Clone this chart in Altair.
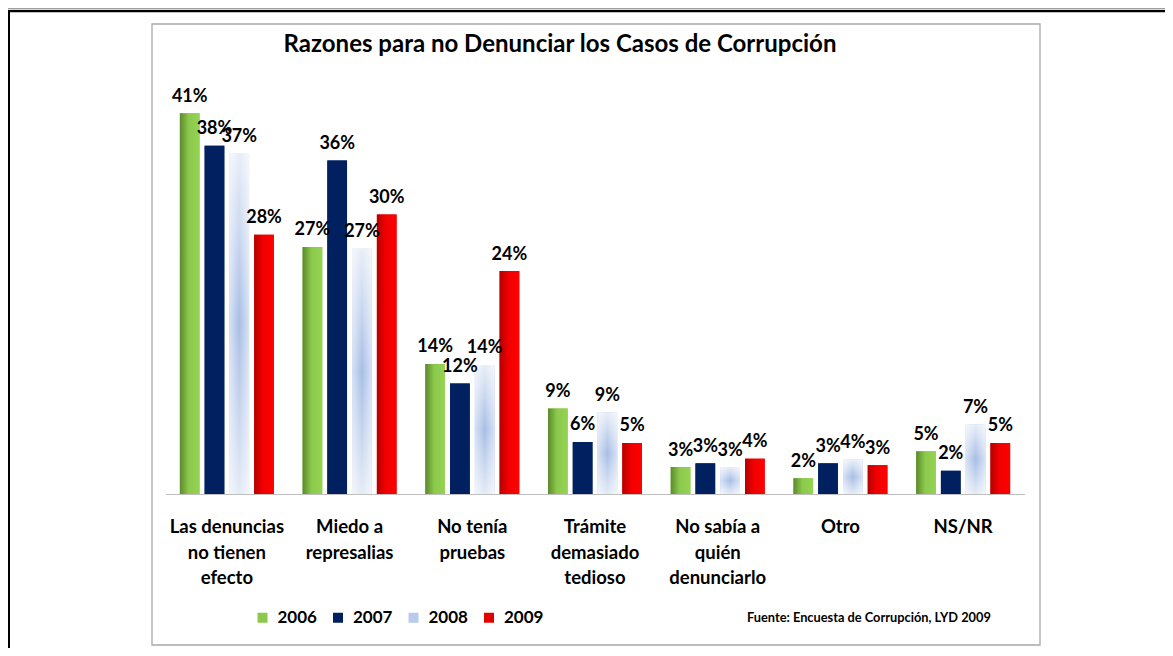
import altair as alt
import pandas as pd

categories = [
    "Las denuncias\nno tienen\nefecto",
    "Miedo a\nrepresalias",
    "No tenía\npruebas",
    "Trámite\ndemasiado\ntedioso",
    "No sabía a\nquién\ndenunciarlo",
    "Otro",
    "NS/NR",
]
years = ["2006", "2007", "2008", "2009"]

v2006 = [41.0, 26.6, 14.0, 9.2, 2.9, 1.7, 4.6]
v2007 = [37.5, 35.9, 11.9, 5.6, 3.3, 3.3, 2.5]
v2008 = [36.7, 26.4, 13.9, 8.8, 2.9, 3.7, 7.5]
v2009 = [27.9, 30.1, 24.0, 5.5, 3.8, 3.1, 5.5]

l2006 = ["41%", "27%", "14%", "9%", "3%", "2%", "5%"]
l2007 = ["38%", "36%", "12%", "6%", "3%", "3%", "2%"]
l2008 = ["37%", "27%", "14%", "9%", "3%", "4%", "7%"]
l2009 = ["28%", "30%", "24%", "5%", "4%", "3%", "5%"]

title_text = "Razones para no Denunciar los Casos de Corrupción"
source_text = "Fuente: Encuesta de Corrupción, LYD 2009"

rows = []
for yr, vals, labs in zip(years, [v2006, v2007, v2008, v2009], [l2006, l2007, l2008, l2009]):
    for c, v, l in zip(categories, vals, labs):
        rows.append({"cat": c, "year": yr, "value": v, "label": l})
df = pd.DataFrame(rows)
one = pd.DataFrame({"k": [0]})

FONT = "Lato"

X = alt.X(
    "cat:N",
    sort=categories,
    title=None,
    scale=alt.Scale(paddingInner=0, paddingOuter=0),
    axis=alt.Axis(
        labelAngle=0,
        labelExpr="split(datum.label, '\\n')",
        labelFont=FONT,
        labelFontSize=18.5,
        labelFontWeight="bold",
        labelColor="black",
        labelLineHeight=25.5,
        labelBaseline="alphabetic",
        labelPadding=38.7,
        ticks=False,
        tickSize=0,
        domainColor="#bfbfbf",
        domainWidth=1,
        grid=False,
    ),
)
Y = alt.Y("value:Q", scale=alt.Scale(domain=[0, 45], nice=False), axis=None)
XO = alt.XOffset("year:N", sort=years, scale=alt.Scale(paddingInner=0.205, paddingOuter=0.58))

base_bars = alt.Chart(df).mark_bar().encode(
    x=X, y=Y, xOffset=XO,
    color=alt.Color(
        "year:N",
        sort=years,
        scale=alt.Scale(domain=years, range=["#8cc84b", "#002060", "#b8cbec", "#e00000"]),
        legend=alt.Legend(
            orient="none", legendX=88.5, legendY=533, direction="horizontal",
            title=None, symbolType="square", symbolSize=100, symbolStrokeWidth=0,
            symbolOpacity=1, labelFont=FONT, labelFontSize=17, labelFontWeight="bold",
            labelColor="black", labelOffset=6.5, columnPadding=12.5, padding=0,
        ),
    ),
)

g_green = alt.Gradient(
    gradient="linear", x1=0, x2=1, y1=0, y2=0,
    stops=[alt.GradientStop(color="#5b8a2b", offset=0),
           alt.GradientStop(color="#8cc94c", offset=0.45),
           alt.GradientStop(color="#95d353", offset=1)],
)
g_red = alt.Gradient(
    gradient="linear", x1=0, x2=1, y1=0, y2=0,
    stops=[alt.GradientStop(color="#b50000", offset=0),
           alt.GradientStop(color="#f20000", offset=0.45),
           alt.GradientStop(color="#ff0000", offset=1)],
)
g_light = alt.Gradient(
    gradient="linear", x1=0, x2=0, y1=0, y2=1,
    stops=[alt.GradientStop(color="#e8eef8", offset=0),
           alt.GradientStop(color="#a7bee6", offset=0.5),
           alt.GradientStop(color="#e4ebf6", offset=1)],
)
g_white = alt.Gradient(
    gradient="linear", x1=0, x2=1, y1=0, y2=0,
    stops=[alt.GradientStop(color="rgba(255,255,255,0.55)", offset=0),
           alt.GradientStop(color="rgba(255,255,255,0)", offset=0.5),
           alt.GradientStop(color="rgba(255,255,255,0.55)", offset=1)],
)


def year_layer(yr, fill):
    return alt.Chart(df).transform_filter(alt.datum.year == yr).mark_bar(fill=fill).encode(
        x=X, y=Y, xOffset=XO
    )


b06 = year_layer("2006", g_green)
b07 = year_layer("2007", "#002060")
b08 = year_layer("2008", g_light)
b08w = year_layer("2008", g_white)
b09 = year_layer("2009", g_red)

labels = alt.Chart(df).mark_text(
    font=FONT, fontSize=18, fontWeight="bold", dy=-11.5, baseline="alphabetic", color="black"
).encode(x=X, y=Y, xOffset=XO, text="label:N")

frame_box = alt.Chart(one).mark_rect(fill="white", fillOpacity=0, stroke="#a8a8a8", strokeWidth=1.3).encode(
    x=alt.value(-13.5), x2=alt.value(874.5), y=alt.value(-52), y2=alt.value(569)
)
top_thin = alt.Chart(one).mark_rule(color="#777777", strokeWidth=1).encode(
    x=alt.value(-157.5), x2=alt.value(1010), y=alt.value(-67.2)
)
top_thick = alt.Chart(one).mark_rule(color="black", strokeWidth=2.3).encode(
    x=alt.value(-157.5), x2=alt.value(1010), y=alt.value(-64.8)
)
left_line = alt.Chart(one).mark_rule(color="black", strokeWidth=2).encode(
    x=alt.value(-156.5), y=alt.value(-66), y2=alt.value(580)
)

title = alt.Chart(one).mark_text(
    font=FONT, fontSize=24, fontWeight="bold", align="center", baseline="alphabetic", color="black"
).encode(x=alt.value(394.5), y=alt.value(-24), text=alt.value(title_text))

source = alt.Chart(one).mark_text(
    font=FONT, fontSize=12.8, fontWeight="bold", align="left", baseline="alphabetic", color="black"
).encode(x=alt.value(581.5), y=alt.value(545.7), text=alt.value(source_text))

chart = alt.layer(
    frame_box, top_thin, top_thick, left_line, title,
    base_bars, b06, b07, b08, b08w, b09, labels, source,
).properties(
    width=859,
    height=418,
    padding={"left": 157.5, "top": 68, "right": 140.5, "bottom": 154},
    autosize=alt.AutoSizeParams(type="none"),
    background="white",
).configure_view(strokeWidth=0)

chart.save("out.html", embed_options={"renderer": "svg", "actions": False})
